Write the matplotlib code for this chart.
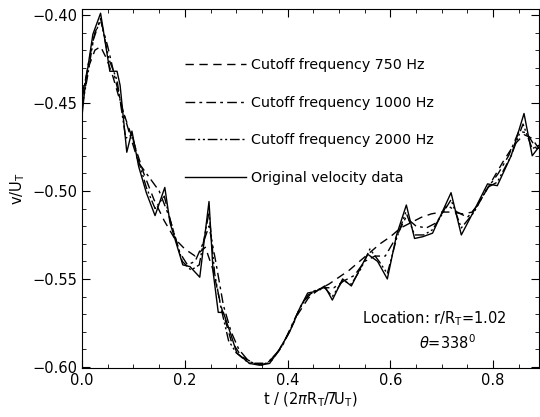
import matplotlib
matplotlib.use("Agg")
import matplotlib.pyplot as plt
from matplotlib.ticker import MultipleLocator

# original velocity data
t_orig = [0.000, 0.006, 0.021, 0.036, 0.054, 0.068, 0.074, 0.087, 0.097, 0.110,
          0.125, 0.142, 0.161, 0.171, 0.196, 0.210, 0.229, 0.247, 0.255, 0.265,
          0.275, 0.290, 0.301, 0.326, 0.345, 0.365, 0.384, 0.404, 0.423, 0.439,
          0.456, 0.472, 0.487, 0.507, 0.524, 0.543, 0.556, 0.575, 0.594, 0.612,
          0.631, 0.647, 0.663, 0.682, 0.718, 0.738, 0.763, 0.789, 0.808, 0.835,
          0.860, 0.876, 0.889]
v_orig = [-0.457, -0.440, -0.411, -0.399, -0.432, -0.432, -0.440, -0.478, -0.466, -0.486,
          -0.501, -0.514, -0.498, -0.518, -0.542, -0.543, -0.549, -0.506, -0.546, -0.569,
          -0.569, -0.582, -0.592, -0.598, -0.599, -0.598, -0.590, -0.580, -0.567, -0.558,
          -0.557, -0.554, -0.562, -0.550, -0.554, -0.543, -0.536, -0.540, -0.550, -0.525,
          -0.508, -0.527, -0.526, -0.524, -0.501, -0.525, -0.511, -0.496, -0.497, -0.480,
          -0.456, -0.480, -0.475]

# cutoff 2000 Hz
t_2000 = [0.000, 0.010, 0.022, 0.036, 0.052, 0.068, 0.085, 0.097, 0.110, 0.125,
          0.142, 0.160, 0.172, 0.195, 0.212, 0.228, 0.247, 0.258, 0.270, 0.285,
          0.300, 0.325, 0.360, 0.385, 0.405, 0.423, 0.440, 0.456, 0.472, 0.487,
          0.507, 0.524, 0.543, 0.560, 0.578, 0.594, 0.612, 0.630, 0.647, 0.665,
          0.682, 0.718, 0.738, 0.763, 0.789, 0.808, 0.835, 0.858, 0.876, 0.889]
v_2000 = [-0.452, -0.436, -0.414, -0.402, -0.425, -0.437, -0.470, -0.468, -0.483, -0.498,
          -0.510, -0.503, -0.517, -0.540, -0.545, -0.542, -0.512, -0.547, -0.566, -0.585,
          -0.592, -0.598, -0.598, -0.590, -0.579, -0.567, -0.559, -0.557, -0.555, -0.560,
          -0.551, -0.553, -0.544, -0.533, -0.540, -0.547, -0.527, -0.512, -0.525, -0.525,
          -0.522, -0.505, -0.521, -0.512, -0.498, -0.495, -0.480, -0.462, -0.476, -0.474]

# cutoff 1000 Hz
t_1000 = [0.000, 0.012, 0.025, 0.036, 0.050, 0.065, 0.080, 0.095, 0.110, 0.125,
          0.150, 0.170, 0.190, 0.205, 0.220, 0.235, 0.247, 0.260, 0.275, 0.290,
          0.305, 0.325, 0.350, 0.370, 0.390, 0.410, 0.430, 0.450, 0.470, 0.490,
          0.510, 0.530, 0.550, 0.570, 0.590, 0.610, 0.630, 0.650, 0.670, 0.690,
          0.710, 0.730, 0.750, 0.770, 0.790, 0.810, 0.830, 0.850, 0.865, 0.880,
          0.889]
v_1000 = [-0.448, -0.428, -0.410, -0.403, -0.418, -0.437, -0.455, -0.470, -0.484, -0.490,
          -0.500, -0.515, -0.535, -0.542, -0.540, -0.530, -0.520, -0.540, -0.565, -0.580,
          -0.590, -0.597, -0.599, -0.596, -0.588, -0.575, -0.563, -0.557, -0.555, -0.555,
          -0.551, -0.548, -0.540, -0.537, -0.537, -0.527, -0.515, -0.520, -0.521, -0.518,
          -0.508, -0.512, -0.515, -0.508, -0.498, -0.490, -0.480, -0.466, -0.467, -0.474,
          -0.478]

# cutoff 750 Hz
t_750 = [0.000, 0.012, 0.025, 0.036, 0.048, 0.060, 0.080, 0.100, 0.120, 0.140,
         0.160, 0.180, 0.200, 0.220, 0.240, 0.255, 0.270, 0.290, 0.310, 0.335,
         0.360, 0.380, 0.400, 0.420, 0.440, 0.460, 0.480, 0.500, 0.520, 0.540,
         0.560, 0.580, 0.600, 0.620, 0.640, 0.660, 0.680, 0.700, 0.720, 0.740,
         0.760, 0.780, 0.800, 0.820, 0.840, 0.860, 0.875, 0.889]
v_750 = [-0.445, -0.430, -0.420, -0.418, -0.425, -0.435, -0.455, -0.472, -0.490, -0.505,
         -0.517, -0.527, -0.533, -0.537, -0.532, -0.545, -0.565, -0.585, -0.594, -0.598,
         -0.598, -0.592, -0.582, -0.570, -0.561, -0.556, -0.553, -0.549, -0.545, -0.540,
         -0.535, -0.530, -0.526, -0.521, -0.518, -0.515, -0.513, -0.512, -0.512, -0.513,
         -0.512, -0.503, -0.493, -0.483, -0.474, -0.468, -0.470, -0.476]

plt.rcParams["font.family"] = ["DejaVu Sans"]
plt.rcParams["mathtext.fontset"] = "dejavusans"

fig = plt.figure(figsize=(5.4, 4.17), dpi=100)
ax = fig.add_axes([0.152, 0.1175, 0.846, 0.861])

lw = 1.0
ax.plot(t_750, v_750, color="black", lw=lw, ls=(0, (6, 4)),
        label="Cutoff frequency 750 Hz")
ax.plot(t_1000, v_1000, color="black", lw=lw, ls=(0, (7, 3, 2, 3)),
        label="Cutoff frequency 1000 Hz")
ax.plot(t_2000, v_2000, color="black", lw=lw, ls=(0, (7, 2, 1.5, 2, 1.5, 2)),
        label="Cutoff frequency 2000 Hz")
ax.plot(t_orig, v_orig, color="black", lw=lw, ls="-",
        label="Original velocity data")

ax.set_xlim(0.0, 0.889)
ax.set_ylim(-0.6006, -0.3966)
ax.xaxis.set_major_locator(MultipleLocator(0.2))
ax.xaxis.set_minor_locator(MultipleLocator(0.05))
ax.yaxis.set_major_locator(MultipleLocator(0.05))
ax.yaxis.set_minor_locator(MultipleLocator(0.01))
ax.xaxis.set_major_formatter(matplotlib.ticker.FormatStrFormatter("%.1f"))
ax.yaxis.set_major_formatter(matplotlib.ticker.FuncFormatter(
    lambda v, p: f"\u2212{abs(v):.2f}"))
ax.tick_params(which="both", direction="in", top=True, right=True, labelsize=10.5)
ax.tick_params(which="major", length=6, width=0.8)
ax.tick_params(which="minor", length=3, width=0.6)

ax.set_xlabel(r"t / (2$\pi$R$_\mathregular{T}$/7U$_\mathregular{T}$)", fontsize=10.5,
              labelpad=2)
ax.set_ylabel(r"v/U$_\mathregular{T}$", fontsize=10.5)

leg = ax.legend(loc="upper left", bbox_to_anchor=(0.225, 0.8635), frameon=False,
                handlelength=4.3, labelspacing=1.66, handletextpad=0.3,
                fontsize=10.3, borderpad=0, borderaxespad=0)

ax.text(0.6135, 0.125, r"Location: r/R$_\mathregular{T}$=1.02", transform=ax.transAxes,
        fontsize=10.5)
ax.text(0.738, 0.053, r"$\theta$=338$^\mathregular{0}$", transform=ax.transAxes,
        fontsize=10.5)

fig.savefig("out.png", dpi=100)
